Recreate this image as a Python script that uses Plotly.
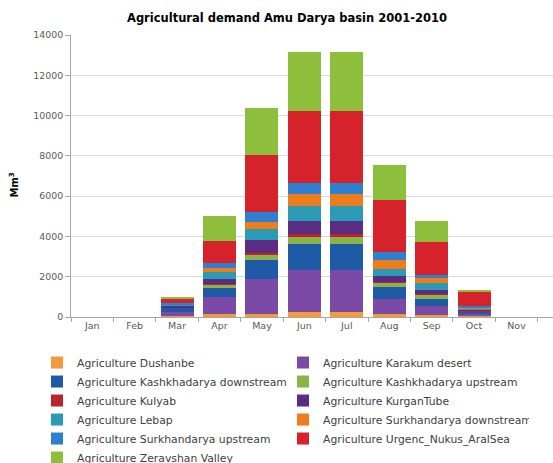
import plotly.graph_objects as go

months = ["Jan", "Feb", "Mar", "Apr", "May", "Jun", "Jul", "Aug", "Sep", "Oct", "Nov", "Dec"]

series_names = [
    "Agriculture Dushanbe",
    "Agriculture Karakum desert",
    "Agriculture Kashkhadarya downstream",
    "Agriculture Kashkhadarya upstream",
    "Agriculture Kulyab",
    "Agriculture KurganTube",
    "Agriculture Lebap",
    "Agriculture Surkhandarya downstream",
    "Agriculture Surkhandarya upstream",
    "Agriculture Urgenc_Nukus_AralSea",
    "Agriculture Zeravshan Valley",
]

dushanbe = [0, 0, 40, 150, 170, 250, 250, 170, 120, 40, 0, 0]
karakum = [0, 0, 230, 830, 1740, 2100, 2100, 740, 410, 100, 0, 0]
kashk_down = [0, 0, 180, 470, 940, 1260, 1260, 580, 380, 120, 0, 0]
kashk_up = [0, 0, 30, 180, 250, 360, 360, 200, 210, 30, 0, 0]
kulyab = [0, 0, 10, 30, 80, 170, 170, 50, 30, 10, 0, 0]
kurgan = [0, 0, 60, 250, 630, 610, 610, 280, 200, 50, 0, 0]
lebap = [0, 0, 60, 330, 580, 760, 760, 380, 330, 60, 0, 0]
surkh_down = [0, 0, 30, 200, 330, 615, 615, 410, 250, 50, 0, 0]
surkh_up = [0, 0, 50, 220, 500, 525, 525, 410, 160, 70, 0, 0]
urgenc = [0, 0, 200, 1100, 2810, 3570, 3560, 2600, 1650, 750, 0, 0]
zeravshan = [0, 0, 100, 1250, 2350, 2960, 2930, 1750, 1010, 80, 0, 0]

series_values = [dushanbe, karakum, kashk_down, kashk_up, kulyab, kurgan,
                 lebap, surkh_down, surkh_up, urgenc, zeravshan]

colors = ["#F39A3C", "#7B4AA6", "#1F5AA6", "#8AB34A", "#B8262B", "#5A2C84",
          "#2B9BB5", "#EC7D1C", "#2F7FD1", "#D6232B", "#8DBF3C"]

FONT = "DejaVu Sans"

fig = go.Figure()
for name, vals, col in zip(series_names, series_values, colors):
    fig.add_trace(go.Bar(x=months, y=vals, name=name, marker=dict(color=col, line=dict(width=0))))

fig.update_layout(
    width=553, height=463,
    margin=dict(l=71, r=0, t=35, b=146, autoexpand=False),
    barmode="stack", bargap=0.22,
    paper_bgcolor="white", plot_bgcolor="white",
    font=dict(family=FONT, size=10, color="#595959"),
    title=dict(text="<b>Agricultural demand Amu Darya basin 2001-2010</b>",
               x=287 / 553, xanchor="center", xref="container",
               y=1 - 18 / 463, yanchor="middle", yref="container",
               font=dict(family=FONT, size=11.5, color="#000000")),
    showlegend=True,
    legend=dict(orientation="h", traceorder="normal",
                x=-0.0705, xanchor="left", y=-0.110, yanchor="top",
                entrywidth=201, entrywidthmode="pixels", tracegroupgap=0,
                font=dict(family=FONT, size=10.8, color="#404040"),
                bgcolor="rgba(0,0,0,0)"),
    annotations=[dict(text="<b>Mm<sup>3</sup></b>", textangle=-90,
                      xref="paper", yref="paper",
                      x=(13.5 - 71) / 482, y=(317 - 185) / 282,
                      xanchor="center", yanchor="middle", showarrow=False,
                      font=dict(family=FONT, size=10, color="#000000"))],
)

fig.update_xaxes(type="category", categoryorder="array", categoryarray=months,
                 range=[-0.5, -0.5 + 482 / 42.43],
                 showline=True, linecolor="#a6a6a6", linewidth=1,
                 ticks="outside", tickson="boundaries", ticklen=4, tickcolor="#a6a6a6",
                 showgrid=False, tickfont=dict(family=FONT, size=9.5, color="#595959"))

fig.update_yaxes(range=[0, 14000], dtick=2000, tickformat="d",
                 showline=True, linecolor="#a6a6a6", linewidth=1,
                 ticks="outside", ticklen=5, tickcolor="#a6a6a6",
                 showgrid=True, gridcolor="#d9d9d9", gridwidth=1, zeroline=False,
                 tickfont=dict(family=FONT, size=9.4, color="#595959"))

fig.write_html("out.html")
